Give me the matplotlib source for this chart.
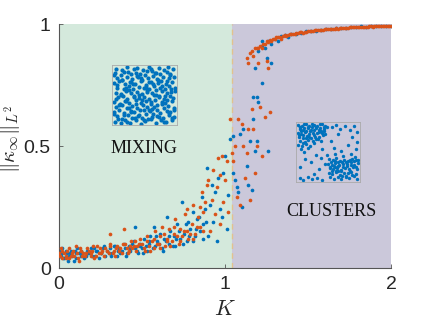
import numpy as np
import matplotlib
matplotlib.use('Agg')
import matplotlib.pyplot as plt

# ---- main scatter data ----
blue_k = [0.00, 0.01, 0.02, 0.03, 0.05, 0.06, 0.07, 0.09, 0.10, 0.11, 0.13, 0.14, 0.15, 0.17,
          0.18, 0.20, 0.21, 0.22, 0.24, 0.25, 0.27, 0.28, 0.29, 0.31, 0.32, 0.34, 0.35, 0.36,
          0.38, 0.39, 0.41, 0.42, 0.43, 0.45, 0.46, 0.47, 0.49,
          0.005, 0.015, 0.025, 0.04, 0.055, 0.065, 0.08, 0.095, 0.105, 0.12, 0.135, 0.16, 0.175,
          0.19, 0.215, 0.23, 0.255, 0.265, 0.30, 0.315, 0.33, 0.355, 0.37, 0.395, 0.405, 0.425,
          0.44, 0.455, 0.475, 0.485,
          0.50, 0.51, 0.53, 0.54, 0.55, 0.57, 0.58, 0.59, 0.61, 0.62, 0.63, 0.65, 0.66, 0.67,
          0.69, 0.70, 0.71, 0.73, 0.74, 0.75, 0.77, 0.78, 0.79, 0.81, 0.82, 0.83, 0.85, 0.86,
          0.87, 0.88, 0.89,
          0.505, 0.525, 0.545, 0.565, 0.585, 0.605, 0.625, 0.645, 0.665, 0.685, 0.705, 0.725,
          0.745, 0.765, 0.785, 0.805, 0.825, 0.845, 0.865, 0.885,
          0.90, 0.91, 0.92, 0.93, 0.94, 0.95, 0.96, 0.97, 0.98, 0.99, 1.00, 1.01, 1.02, 1.03,
          1.05, 1.05, 1.06, 1.07, 1.08, 1.09, 1.10, 1.11, 1.13, 1.14, 1.15, 1.16, 1.17, 1.17,
          1.18, 1.19, 1.19, 1.20, 1.22, 1.18, 1.25, 1.28, 1.26, 1.22,
          1.20, 1.22, 1.24, 1.26, 1.28, 1.30, 1.32, 1.34, 1.36, 1.38, 1.40, 1.43, 1.46, 1.49,
          1.52, 1.55, 1.58, 1.61, 1.64, 1.67, 1.70, 1.73, 1.76, 1.79, 1.82, 1.85, 1.88, 1.91,
          1.94, 1.97, 2.00]
blue_y = [0.07, 0.05, 0.08, 0.04, 0.06, 0.05, 0.07, 0.03, 0.06, 0.08, 0.05, 0.06, 0.04, 0.07,
          0.06, 0.05, 0.08, 0.07, 0.04, 0.06, 0.09, 0.05, 0.07, 0.08, 0.06, 0.09, 0.05, 0.08,
          0.07, 0.10, 0.06, 0.09, 0.08, 0.11, 0.17, 0.07, 0.10,
          0.05, 0.06, 0.04, 0.07, 0.03, 0.06, 0.05, 0.07, 0.04, 0.06, 0.07, 0.05, 0.06,
          0.08, 0.05, 0.07, 0.06, 0.08, 0.06, 0.05, 0.09, 0.07, 0.06, 0.08, 0.05, 0.07,
          0.10, 0.08, 0.06, 0.09,
          0.08, 0.12, 0.07, 0.10, 0.13, 0.17, 0.09, 0.11, 0.14, 0.08, 0.12, 0.21, 0.10, 0.15,
          0.13, 0.09, 0.18, 0.12, 0.27, 0.14, 0.11, 0.19, 0.16, 0.23, 0.13, 0.20, 0.15, 0.29,
          0.18, 0.24, 0.41,
          0.06, 0.09, 0.11, 0.08, 0.13, 0.10, 0.07, 0.11, 0.13, 0.09, 0.12, 0.15,
          0.10, 0.18, 0.13, 0.11, 0.16, 0.21, 0.12, 0.19,
          0.13, 0.26, 0.34, 0.19, 0.31, 0.11, 0.37, 0.24, 0.21, 0.39, 0.46, 0.16, 0.30, 0.53,
          0.39, 0.54, 0.36, 0.33, 0.31, 0.55, 0.25, 0.57, 0.42, 0.34, 0.52, 0.32, 0.61, 0.70,
          0.48, 0.52, 0.70, 0.68, 0.76, 0.82, 0.86, 0.84, 0.48, 0.93,
          0.89, 0.91, 0.90, 0.93, 0.92, 0.94, 0.93, 0.95, 0.955, 0.945, 0.96, 0.96, 0.965, 0.97,
          0.97, 0.973, 0.977, 0.98, 0.978, 0.982, 0.985, 0.983, 0.986, 0.986, 0.99, 0.987, 0.99, 0.99,
          0.99, 0.99, 0.99]

orange_k = [0.00, 0.01, 0.02, 0.04, 0.05, 0.06, 0.08, 0.09, 0.10, 0.12, 0.13, 0.14, 0.16, 0.17,
            0.19, 0.20, 0.21, 0.23, 0.24, 0.26, 0.27, 0.28, 0.30, 0.31, 0.31, 0.33, 0.34, 0.35,
            0.37, 0.38, 0.39, 0.40, 0.42, 0.43, 0.44, 0.46, 0.47, 0.49,
            0.005, 0.02, 0.03, 0.045, 0.06, 0.075, 0.085, 0.11, 0.115, 0.125, 0.145, 0.155, 0.18,
            0.195, 0.205, 0.22, 0.245, 0.25, 0.29, 0.305, 0.325, 0.345, 0.36, 0.385, 0.41, 0.415,
            0.435, 0.45, 0.465, 0.48,
            0.50, 0.52, 0.53, 0.54, 0.56, 0.57, 0.58, 0.60, 0.61, 0.62, 0.64, 0.65, 0.66, 0.68,
            0.69, 0.70, 0.72, 0.73, 0.74, 0.76, 0.77, 0.78, 0.80, 0.81, 0.82, 0.84, 0.85, 0.86,
            0.87, 0.89,
            0.51, 0.53, 0.55, 0.57, 0.59, 0.61, 0.63, 0.65, 0.67, 0.69, 0.71, 0.73, 0.75, 0.77,
            0.79, 0.81, 0.83, 0.85, 0.87, 0.88,
            0.90, 0.91, 0.92, 0.93, 0.94, 0.95, 0.96, 0.97, 0.97, 0.98, 0.99, 1.00, 1.01, 1.02,
            1.03, 1.04,
            1.05, 1.06, 1.07, 1.08, 1.09, 1.10, 1.11, 1.12, 1.13, 1.14, 1.15, 1.16, 1.17, 1.18,
            1.19, 1.21, 1.24, 1.27, 1.20, 1.22, 1.25, 1.26,
            1.13, 1.15, 1.17, 1.19, 1.20, 1.21, 1.23, 1.25, 1.27, 1.29, 1.31, 1.33, 1.35, 1.37,
            1.39, 1.41, 1.43, 1.44, 1.46, 1.47, 1.49, 1.50, 1.52, 1.53, 1.55, 1.56, 1.58, 1.59,
            1.61, 1.62, 1.64, 1.65, 1.67, 1.68, 1.70, 1.71, 1.73, 1.74, 1.76, 1.77, 1.79, 1.80,
            1.82, 1.83, 1.85, 1.86, 1.88, 1.89, 1.91, 1.92, 1.94, 1.95, 1.97, 1.98, 2.00,
            1.14, 1.16, 1.18, 1.22, 1.24, 1.26, 1.28, 1.30, 1.32, 1.34, 1.36, 1.38, 1.40, 1.42,
            1.45, 1.48, 1.51, 1.54, 1.57, 1.60, 1.63, 1.66, 1.69, 1.72, 1.75, 1.78, 1.81, 1.84,
            1.87, 1.90, 1.93, 1.96, 1.99]
orange_y = [0.06, 0.08, 0.04, 0.05, 0.07, 0.04, 0.06, 0.05, 0.09, 0.03, 0.07, 0.05, 0.06, 0.08,
            0.05, 0.07, 0.04, 0.09, 0.06, 0.07, 0.05, 0.08, 0.06, 0.10, 0.14, 0.07, 0.05, 0.09,
            0.08, 0.06, 0.16, 0.10, 0.07, 0.09, 0.08, 0.11, 0.09, 0.12,
            0.05, 0.07, 0.06, 0.04, 0.08, 0.05, 0.07, 0.06, 0.04, 0.08, 0.06, 0.05, 0.07,
            0.06, 0.09, 0.05, 0.08, 0.06, 0.07, 0.09, 0.06, 0.08, 0.07, 0.10, 0.08, 0.06,
            0.11, 0.09, 0.07, 0.10,
            0.10, 0.07, 0.13, 0.09, 0.11, 0.08, 0.15, 0.10, 0.13, 0.17, 0.09, 0.12, 0.16, 0.11,
            0.14, 0.20, 0.10, 0.16, 0.13, 0.22, 0.15, 0.12, 0.18, 0.26, 0.14, 0.21, 0.17, 0.31,
            0.23, 0.34,
            0.08, 0.11, 0.07, 0.12, 0.10, 0.08, 0.14, 0.11, 0.09, 0.17, 0.13, 0.11, 0.15, 0.24,
            0.14, 0.12, 0.17, 0.25, 0.15, 0.27,
            0.36, 0.15, 0.28, 0.40, 0.22, 0.33, 0.45, 0.18, 0.38, 0.46, 0.27, 0.36, 0.44, 0.23,
            0.61, 0.47,
            0.44, 0.50, 0.29, 0.61, 0.26, 0.59, 0.50, 0.37, 0.47, 0.57, 0.28, 0.65, 0.57, 0.39,
            0.50, 0.66, 0.62, 0.64, 0.84, 0.46, 0.85, 0.82,
            0.86, 0.88, 0.87, 0.90, 0.90, 0.91, 0.92, 0.93, 0.935, 0.94, 0.945, 0.945, 0.95, 0.952,
            0.958, 0.96, 0.963, 0.962, 0.966, 0.965, 0.968, 0.97, 0.971, 0.973, 0.975, 0.974, 0.977, 0.976,
            0.979, 0.978, 0.981, 0.98, 0.982, 0.981, 0.984, 0.983, 0.985, 0.984, 0.986, 0.986, 0.987, 0.986,
            0.988, 0.987, 0.989, 0.989, 0.99, 0.989, 0.99, 0.991, 0.991, 0.99, 0.992, 0.991, 0.992,
            0.84, 0.89, 0.90, 0.90, 0.92, 0.925, 0.93, 0.94, 0.945, 0.94, 0.955, 0.955, 0.96, 0.96,
            0.966, 0.968, 0.97, 0.975, 0.974, 0.979, 0.98, 0.98, 0.983, 0.984, 0.986, 0.987, 0.988, 0.989,
            0.99, 0.99, 0.991, 0.992, 0.993]

k_boundary = 1.04

# ---- inset snapshots (particle positions in the unit square) ----
mix_x = [0.03, 0.12, 0.19, 0.27, 0.36, 0.44, 0.51, 0.60, 0.68, 0.77, 0.85, 0.94,
         0.07, 0.15, 0.24, 0.31, 0.40, 0.47, 0.56, 0.64, 0.73, 0.80, 0.89, 0.97,
         0.02, 0.10, 0.18, 0.28, 0.34, 0.43, 0.53, 0.59, 0.70, 0.76, 0.86, 0.92,
         0.05, 0.14, 0.22, 0.30, 0.39, 0.48, 0.55, 0.63, 0.71, 0.81, 0.88, 0.98,
         0.01, 0.11, 0.20, 0.26, 0.37, 0.45, 0.52, 0.61, 0.67, 0.78, 0.84, 0.95,
         0.08, 0.16, 0.23, 0.33, 0.41, 0.49, 0.58, 0.65, 0.74, 0.82, 0.91, 0.96,
         0.04, 0.13, 0.21, 0.29, 0.38, 0.46, 0.54, 0.62, 0.69, 0.79, 0.87, 0.93,
         0.06, 0.17, 0.25, 0.32, 0.42, 0.50, 0.57, 0.66, 0.75, 0.83, 0.90, 0.99,
         0.02, 0.09, 0.19, 0.27, 0.35, 0.44, 0.53, 0.60, 0.72, 0.77, 0.85, 0.94,
         0.07, 0.14, 0.23, 0.30, 0.40, 0.47, 0.56, 0.64, 0.70, 0.80, 0.89, 0.97,
         0.03, 0.12, 0.18, 0.28, 0.36, 0.43, 0.51, 0.63, 0.68, 0.76, 0.86, 0.92,
         0.05, 0.15, 0.22, 0.34, 0.39, 0.48, 0.58, 0.61, 0.73, 0.81, 0.88, 0.96,
         0.08, 0.22, 0.35, 0.49, 0.63, 0.81, 0.95, 0.01, 0.17, 0.29, 0.42, 0.58, 0.71, 0.90,
         0.10, 0.25, 0.37, 0.50, 0.66, 0.79, 0.97, 0.04, 0.19, 0.33, 0.46, 0.61, 0.74, 0.87,
         0.13, 0.26, 0.41, 0.55, 0.69, 0.84, 0.99, 0.06, 0.20, 0.32, 0.52, 0.64, 0.78, 0.93,
         0.15, 0.28, 0.45, 0.57, 0.72, 0.86, 0.02, 0.24, 0.38, 0.54, 0.67, 0.91]
mix_y = [0.04, 0.01, 0.07, 0.02, 0.06, 0.00, 0.05, 0.08, 0.01, 0.06, 0.03, 0.07,
         0.13, 0.09, 0.16, 0.11, 0.14, 0.10, 0.08, 0.17, 0.12, 0.10, 0.15, 0.12,
         0.21, 0.24, 0.19, 0.23, 0.20, 0.25, 0.18, 0.22, 0.24, 0.19, 0.23, 0.20,
         0.29, 0.32, 0.27, 0.31, 0.28, 0.33, 0.30, 0.26, 0.32, 0.28, 0.31, 0.27,
         0.38, 0.35, 0.40, 0.36, 0.41, 0.37, 0.39, 0.35, 0.42, 0.38, 0.36, 0.40,
         0.46, 0.48, 0.44, 0.49, 0.45, 0.47, 0.43, 0.50, 0.46, 0.44, 0.49, 0.45,
         0.54, 0.51, 0.57, 0.53, 0.56, 0.52, 0.58, 0.54, 0.51, 0.57, 0.53, 0.56,
         0.63, 0.60, 0.65, 0.61, 0.64, 0.62, 0.60, 0.66, 0.63, 0.61, 0.65, 0.62,
         0.71, 0.74, 0.69, 0.72, 0.70, 0.75, 0.68, 0.73, 0.71, 0.74, 0.69, 0.72,
         0.79, 0.77, 0.82, 0.78, 0.81, 0.77, 0.80, 0.83, 0.78, 0.82, 0.79, 0.81,
         0.88, 0.85, 0.90, 0.86, 0.89, 0.87, 0.85, 0.91, 0.88, 0.86, 0.90, 0.87,
         0.96, 0.93, 0.98, 0.95, 0.97, 0.94, 0.99, 0.95, 0.97, 0.93, 0.98, 0.96,
         0.08, 0.03, 0.11, 0.06, 0.12, 0.04, 0.10, 0.18, 0.15, 0.21, 0.16, 0.24, 0.14, 0.19,
         0.33, 0.27, 0.35, 0.25, 0.30, 0.34, 0.24, 0.43, 0.39, 0.47, 0.42, 0.38, 0.48, 0.41,
         0.52, 0.58, 0.50, 0.55, 0.59, 0.49, 0.57, 0.67, 0.62, 0.69, 0.64, 0.70, 0.66, 0.60,
         0.76, 0.73, 0.79, 0.72, 0.77, 0.75, 0.85, 0.90, 0.83, 0.92, 0.88, 0.84]

clu_x = [0.02, 0.08, 0.14, 0.20, 0.27, 0.33, 0.40, 0.46, 0.04, 0.10, 0.17, 0.23, 0.30, 0.36,
         0.43, 0.49, 0.01, 0.07, 0.13, 0.19, 0.26, 0.32, 0.39, 0.45, 0.03, 0.09, 0.16, 0.22,
         0.29, 0.35, 0.42, 0.05, 0.12, 0.18, 0.25, 0.31, 0.38, 0.02, 0.08, 0.15, 0.21, 0.28,
         0.06, 0.11, 0.17, 0.05, 0.11, 0.24, 0.37, 0.44,
         0.05, 0.11, 0.18, 0.24, 0.31, 0.37, 0.44, 0.06, 0.14, 0.21, 0.28, 0.35, 0.41, 0.03,
         0.10, 0.20, 0.27, 0.34, 0.09, 0.15,
         0.52, 0.58, 0.64, 0.70, 0.77, 0.83, 0.90, 0.96, 0.50, 0.56, 0.62, 0.68, 0.74, 0.81,
         0.87, 0.93, 0.99, 0.53, 0.59, 0.65, 0.71, 0.78, 0.84, 0.91, 0.97, 0.51, 0.57, 0.63,
         0.69, 0.76, 0.82, 0.88, 0.95, 0.54, 0.60, 0.66, 0.72, 0.79, 0.85, 0.92, 0.98, 0.48,
         0.62, 0.75, 0.88, 0.61, 0.73, 0.86, 0.94, 0.67,
         0.55, 0.61, 0.67, 0.73, 0.80, 0.86, 0.93, 0.99, 0.53, 0.60, 0.67, 0.74, 0.81, 0.88,
         0.95, 0.56, 0.64, 0.72, 0.80, 0.90,
         0.56, 0.63, 0.70, 0.78, 0.86, 0.93, 0.98, 0.66, 0.90, 0.97, 0.82, 0.95, 0.55, 0.40,
         0.30, 0.22, 0.12, 0.05, 0.35, 0.28, 0.04, 0.10, 0.17, 0.24, 0.32, 0.40, 0.45, 0.60,
         0.72, 0.38]
clu_y = [0.97, 0.95, 0.98, 0.96, 0.97, 0.95, 0.98, 0.96, 0.90, 0.88, 0.91, 0.89, 0.92, 0.88,
         0.90, 0.93, 0.84, 0.82, 0.85, 0.81, 0.84, 0.83, 0.86, 0.82, 0.77, 0.75, 0.78, 0.74,
         0.77, 0.76, 0.79, 0.70, 0.68, 0.71, 0.69, 0.72, 0.70, 0.63, 0.61, 0.64, 0.60, 0.65,
         0.55, 0.50, 0.57, 0.93, 0.92, 0.93, 0.92, 0.86,
         0.93, 0.99, 0.94, 0.99, 0.94, 0.99, 0.93, 0.86, 0.87, 0.86, 0.88, 0.85, 0.84, 0.80,
         0.79, 0.77, 0.80, 0.73, 0.66, 0.74,
         0.38, 0.36, 0.39, 0.35, 0.37, 0.34, 0.38, 0.36, 0.30, 0.28, 0.31, 0.27, 0.30, 0.29,
         0.32, 0.28, 0.31, 0.22, 0.20, 0.23, 0.19, 0.22, 0.21, 0.24, 0.20, 0.14, 0.12, 0.15,
         0.11, 0.14, 0.13, 0.16, 0.12, 0.06, 0.04, 0.07, 0.03, 0.06, 0.05, 0.08, 0.04, 0.45,
         0.46, 0.44, 0.47, 0.25, 0.09, 0.18, 0.42, 0.17,
         0.33, 0.34, 0.33, 0.32, 0.33, 0.36, 0.34, 0.37, 0.25, 0.26, 0.26, 0.25, 0.26, 0.27,
         0.25, 0.17, 0.18, 0.17, 0.09, 0.10,
         0.93, 0.97, 0.90, 0.95, 0.88, 0.96, 0.85, 0.82, 0.76, 0.68, 0.62, 0.55, 0.70, 0.55,
         0.45, 0.33, 0.38, 0.25, 0.20, 0.12, 0.05, 0.02, 0.06, 0.03, 0.05, 0.02, 0.30, 0.58,
         0.52, 0.40]

blue = '#0072BD'
orange = '#D95319'
green_bg = '#d4e9dc'
purple_bg = '#cbc8da'

plt.rcParams['mathtext.fontset'] = 'cm'
plt.rcParams['font.family'] = ['Liberation Sans', 'DejaVu Sans']

fig = plt.figure(figsize=(4.32, 3.24), dpi=100)
ax = fig.add_axes([0.1366, 0.1728, 0.7685, 0.7531])

ax.axvspan(0, k_boundary, color=green_bg, lw=0, zorder=0)
ax.axvspan(k_boundary, 2, color=purple_bg, lw=0, zorder=0)
ax.axvline(k_boundary, color='#e2c28e', lw=1.0, ls=(0, (4, 3)), zorder=1)

ax.scatter(blue_k, blue_y, s=7, color=blue, lw=0, zorder=2)
ax.scatter(orange_k, orange_y, s=7, color=orange, lw=0, zorder=3)

ax.set_xlim(0, 2)
ax.set_ylim(0, 1)
ax.set_xticks([0, 1, 2])
ax.set_yticks([0, 0.5, 1])
ax.set_xticklabels(['0', '1', '2'])
ax.set_yticklabels(['0', '0.5', '1'])
for side in ['top', 'right']:
    ax.spines[side].set_visible(False)
for side in ['left', 'bottom']:
    ax.spines[side].set_color('#555555')
    ax.spines[side].set_linewidth(0.8)
ax.tick_params(direction='in', length=3, width=0.6, color='#555555',
               labelsize=14, labelcolor='#262626', pad=6)

ax.set_xlabel(r'$K$', fontsize=16, color='#262626', labelpad=4)
ax.set_ylabel(r'$\|\kappa_\infty\|_{L^2}$', fontsize=15, color='#262626')
ax.yaxis.set_label_coords(-0.11, 0.53)

ax.text(0.51, 0.49, 'MIXING', fontsize=13, family='Liberation Serif',
        ha='center', va='center', color='#111111')
ax.text(1.64, 0.23, 'CLUSTERS', fontsize=13, family='Liberation Serif',
        ha='center', va='center', color='#111111')

# insets
in1 = fig.add_axes([0.259, 0.614, 0.150, 0.185])
in1.scatter(mix_x, mix_y, s=9, color=blue, lw=0)
in2 = fig.add_axes([0.685, 0.438, 0.148, 0.185])
in2.scatter(clu_x, clu_y, s=6, color=blue, lw=0)
for a in [in1, in2]:
    a.set_xlim(-0.02, 1.02)
    a.set_ylim(-0.02, 1.02)
    a.set_xticks([])
    a.set_yticks([])
    a.patch.set_alpha(0)
    for s in a.spines.values():
        s.set_color('#aaaaaa')
        s.set_linewidth(0.6)

fig.savefig('out.png', dpi=100)
